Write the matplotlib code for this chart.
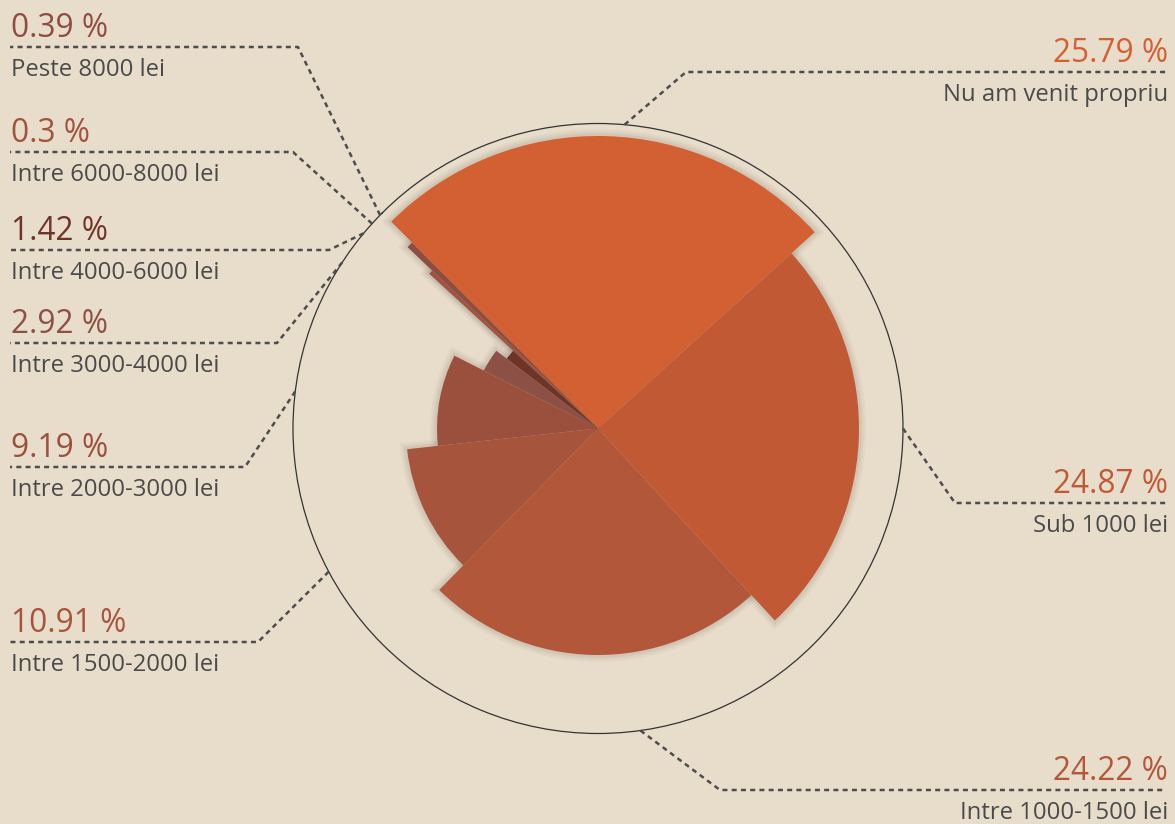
import numpy as np
import matplotlib
matplotlib.use("Agg")
import matplotlib.pyplot as plt

# ---- data ----
categories = ["Nu am venit propriu", "Sub 1000 lei", "Intre 1000-1500 lei",
              "Intre 1500-2000 lei", "Intre 2000-3000 lei", "Intre 3000-4000 lei",
              "Intre 4000-6000 lei", "Intre 6000-8000 lei", "Peste 8000 lei"]
values = [25.79, 24.87, 24.22, 10.91, 9.19, 2.92, 1.42, 0.3, 0.39]
pct_labels = ["25.79 %", "24.87 %", "24.22 %", "10.91 %", "9.19 %", "2.92 %",
              "1.42 %", "0.3 %", "0.39 %"]
radii = [292.5, 261, 226.5, 192, 161, 128, 115, 229, 263]   # outer circle = 305
colors = ["#D36032", "#C15935", "#B3573A", "#A7543C", "#9B4F3D", "#8C5044",
          "#6F3428", "#A0533F", "#8E4D41"]

# ---- label layout (pixels) ----
side = ["R", "R", "R", "L", "L", "L", "L", "L", "L"]
line_y = [72, 503, 790, 642, 467, 343, 250, 152, 47]
knee_x = [686, 955, 720, 258, 245, 277, 329, 293, 298]
anchor_deg = [85, 0, -82, -152, 173, 147, 140.2, 137.8, 135.6]

W, H = 1175, 824
bg = "#E8DDCB"
fig = plt.figure(figsize=(W / 100, H / 100), dpi=100, facecolor=bg)

cx, cy, R = 598, 428.5, 305
ax = fig.add_axes([(cx - R) / W, (H - cy - R) / H, 2 * R / W, 2 * R / H],
                  projection="polar")
ax.set_facecolor("none")
ax.set_theta_offset(np.radians(135))
ax.set_theta_direction(-1)
ax.set_ylim(0, R)
ax.grid(False)
ax.set_xticks([])
ax.set_yticks([])
ax.spines["polar"].set_color("#333333")
ax.spines["polar"].set_linewidth(0.9)

vals = np.array(values)
widths = vals / vals.sum() * 2 * np.pi
starts = np.concatenate([[0], np.cumsum(widths)[:-1]])

# soft shadow halo
for lw, a in [(10, 0.03), (7, 0.045), (4, 0.06)]:
    ax.bar(starts, radii, width=widths, align="edge", color="none",
           edgecolor=(0.25, 0.2, 0.15, a), linewidth=lw, zorder=1)
order = list(range(len(values)))[::-1]
for z, i in enumerate(order):
    ax.bar(starts[i], radii[i], width=widths[i], align="edge",
           color=colors[i], edgecolor="none", zorder=2 + z * 0.01)

# overlay for labels
ov = fig.add_axes([0, 0, 1, 1])
ov.set_xlim(0, W)
ov.set_ylim(H, 0)
ov.axis("off")
ov.patch.set_alpha(0)

font = "Open Sans"
line_color = "#4D4D4D"
for i in range(len(values)):
    a = np.radians(anchor_deg[i])
    ax_pt = (cx + R * np.cos(a), cy - R * np.sin(a))
    ly = line_y[i]
    if side[i] == "R":
        end_x, tx, ha = 1166, 1168, "right"
    else:
        end_x, tx, ha = 10, 11, "left"
    ov.plot([ax_pt[0], knee_x[i], end_x], [ax_pt[1], ly, ly],
            color=line_color, lw=1.8, linestyle=(0, (2.0, 1.7)),
            solid_capstyle="butt", dash_capstyle="butt")
    ov.text(tx, ly - 18.5, pct_labels[i], ha=ha, va="center", fontsize=22.8,
            color=colors[i], family=font)
    ov.text(tx, ly + 23, categories[i], ha=ha, va="center", fontsize=17.2,
            color="#4A4A4A", family=font)

fig.savefig("out.png", dpi=100, facecolor=bg)
